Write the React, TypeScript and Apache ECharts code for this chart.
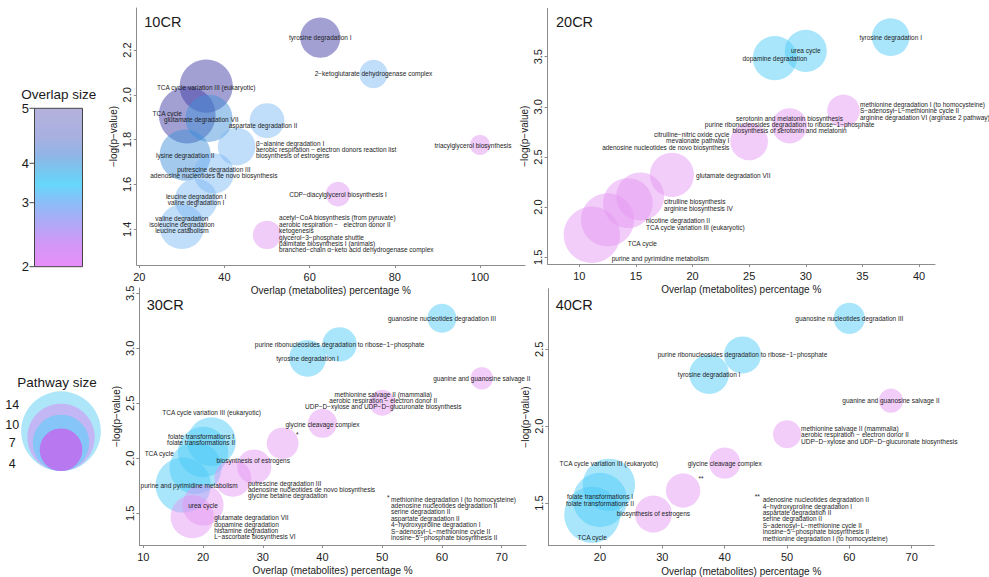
import { useEffect, useRef } from 'react';
import * as echarts from 'echarts';

const FONT = '"Liberation Sans", Arial, Helvetica, sans-serif';
const TXT = '#1c1c1c';

// ---------- 10CR ----------
const cr10Pathways = [
  'tyrosine degradation I',
  '2−ketoglutarate dehydrogenase complex',
  'TCA cycle variation III (eukaryotic)',
  'TCA cycle',
  'glutamate degradation VII',
  'aspartate degradation II',
  'β−alanine degradation I\naerobic respiration − electron donors reaction list\nbiosynthesis of estrogens',
  'triacylglycerol biosynthesis',
  'lysine degradation II',
  'putrescine degradation III\nadenosine nucleotides de novo biosynthesis',
  'leucine degradation I\nvaline degradation I',
  'valine degradation\nisoleucine degradation\nleucine catabolism',
  'CDP−diacylglycerol biosynthesis I',
  'acetyl−CoA biosynthesis (from pyruvate)\naerobic respiration −   electron donor II\nketogenesis\nglycerol−3−phosphate shuttle\npalmitate biosynthesis I (animals)\nbranched−chain α−keto acid dehydrogenase complex',
];
const cr10OverlapPct = [62.5, 75, 35.71, 31.25, 36.36, 50, 42.86, 100, 30.77, 37.5, 33.33, 30, 66.67, 50];
const cr10LogP = [2.255, 2.093, 2.039, 1.91, 1.895, 1.885, 1.769, 1.776, 1.731, 1.65, 1.531, 1.412, 1.557, 1.375];
const cr10PathwaySize = [8, 4, 14, 16, 11, 6, 7, 2, 13, 8, 9, 10, 3, 4];
const cr10OverlapSize = [5, 3, 5, 5, 4, 3, 3, 2, 4, 3, 3, 3, 2, 2];

// ---------- 20CR ----------
const cr20Pathways = [
  'tyrosine degradation I',
  'urea cycle',
  'dopamine degradation',
  'methionine degradation I (to homocysteine)\nS−adenosyl−L−methionine cycle II\narginine degradation VI (arginase 2 pathway)',
  'serotonin and melatonin biosynthesis\npurine ribonucleosides degradation to ribose−1−phosphate\nbiosynthesis of serotonin and melatonin',
  'citrulline−nitric oxide cycle\nmevalonate pathway I\nadenosine nucleotides de novo biosynthesis',
  'glutamate degradation VII',
  'citrulline biosynthesis\narginine biosynthesis IV',
  'nicotine degradation II\nTCA cycle variation III (eukaryotic)',
  'TCA cycle',
  'purine and pyrimidine metabolism',
];
const cr20OverlapPct = [37.5, 30, 27.27, 33.33, 28.57, 25, 18.18, 15.38, 14.29, 12.5, 11.11];
const cr20LogP = [3.695, 3.558, 3.486, 2.96, 2.811, 2.654, 2.322, 2.106, 2.04, 1.873, 1.724];
const cr20PathwaySize = [8, 10, 11, 6, 7, 8, 11, 13, 14, 16, 18];
const cr20OverlapSize = [3, 3, 3, 2, 2, 2, 2, 2, 2, 2, 2];

// ---------- 30CR ----------
const cr30Pathways = [
  'guanosine nucleotides degradation III',
  'purine ribonucleosides degradation to ribose−1−phosphate',
  'tyrosine degradation I',
  'guanine and guanosine salvage II',
  'methionine salvage II (mammalia)\naerobic respiration − electron donor II\nUDP−D−xylose and UDP−D−glucuronate biosynthesis',
  'glycine cleavage complex',
  '*',
  'TCA cycle variation III (eukaryotic)',
  'folate transformations I\nfolate transformations II',
  'TCA cycle',
  'purine and pyrimidine metabolism',
  'biosynthesis of estrogens',
  'putrescine degradation III\nadenosine nucleotides de novo biosynthesis\nglycine betaine degradation',
  'urea cycle',
  'glutamate degradation VII\ndopamine degradation\nhistamine degradation\nL−ascorbate biosynthesis VI',
];
const cr30OverlapPct = [60, 42.86, 37.5, 66.67, 50, 40, 33.33, 21.43, 20, 18.75, 16.67, 28.57, 25, 20, 18.18];
const cr30LogP = [3.273, 3.036, 2.909, 2.727, 2.505, 2.318, 2.136, 2.151, 2.057, 1.912, 1.757, 1.924, 1.818, 1.575, 1.469];
const cr30PathwaySize = [5, 7, 8, 3, 4, 5, 6, 14, 15, 16, 18, 7, 8, 10, 11];
const cr30OverlapSize = [3, 3, 3, 2, 2, 2, 2, 3, 3, 3, 3, 2, 2, 2, 2];
const cr30StarNote = [
  'methionine degradation I (to homocysteine)',
  'adenosine nucleotides degradation II',
  'serine degradation II',
  'aspartate degradation II',
  '4−hydroxyproline degradation I',
  'S−adenosyl−L−methionine cycle II',
  "inosine−5'−phosphate biosynthesis II",
];
const cr30StarAnchor = [51.02, 1.646];
const cr30NoteAnchor = [51.47, 1.659];

// ---------- 40CR ----------
const cr40Pathways = [
  'guanosine nucleotides degradation III',
  'purine ribonucleosides degradation to ribose−1−phosphate',
  'tyrosine degradation I',
  'guanine and guanosine salvage II',
  'methionine salvage II (mammalia)\naerobic respiration − electron donor II\nUDP−D−xylose and UDP−D−glucuronate biosynthesis',
  'glycine cleavage complex',
  '**',
  'biosynthesis of estrogens',
  'TCA cycle variation III (eukaryotic)',
  'folate transformations I\nfolate transformations II',
  'TCA cycle',
];
const cr40OverlapPct = [60, 42.86, 37.5, 66.67, 50, 40, 33.33, 28.57, 21.43, 20, 18.75];
const cr40LogP = [2.701, 2.463, 2.338, 2.166, 1.948, 1.76, 1.582, 1.429, 1.619, 1.521, 1.424];
const cr40PathwaySize = [5, 7, 8, 3, 4, 5, 6, 7, 14, 15, 16];
const cr40OverlapSize = [3, 3, 3, 2, 2, 2, 2, 2, 3, 3, 3];
const cr40StarNote = [
  'adenosine nucleotides degradation II',
  '4−hydroxyproline degradation I',
  'aspartate degradation II',
  'serine degradation II',
  'S−adenosyl−L−methionine cycle II',
  "inosine−5'−phosphate biosynthesis II",
  'methionine degradation I (to homocysteine)',
];
const cr40StarAnchor = [45.23, 1.54];
const cr40NoteAnchor = [46.1, 1.544];

// ---------- axis ticks ----------
const cr10XTicks = [20, 40, 60, 80, 100];
const cr10YTicks = [1.4, 1.6, 1.8, 2.0, 2.2];
const cr20XTicks = [10, 15, 20, 25, 30, 35, 40];
const cr20YTicks = [1.5, 2.0, 2.5, 3.0, 3.5];
const cr30XTicks = [10, 20, 30, 40, 50, 60, 70];
const cr30YTicks = [1.5, 2.0, 2.5, 3.0, 3.5];
const cr40XTicks = [20, 30, 40, 50, 60, 70];
const cr40YTicks = [1.5, 2.0, 2.5];

// ---------- legends ----------
const overlapLegendTicks = [5, 4, 3, 2];
const pathwayLegendSizes = [14, 10, 7, 4];

// ---------- layout (pixels, styles) ----------
type LL = [number, number, 'left' | 'center' | 'right'];
const cr10Labels: LL[] = [
  [0, 0, 'center'], [0, 0, 'center'], [0, 1.3, 'center'], [-20, -1.7, 'center'],
  [-7.7, 0.7, 'center'], [-4, 4.6, 'center'], [19.3, 2.8, 'left'], [-7, 0, 'center'],
  [0, 0.7, 'center'], [0, -0.6, 'center'], [0, -0.7, 'center'], [0, -2, 'center'],
  [0, 0, 'center'], [12, -1, 'left'],
];
const cr20Labels: LL[] = [
  [0, 0, 'center'], [0, 0, 'center'], [0, 0, 'center'], [16.5, 0, 'left'],
  [0, -1.3, 'center'], [-19.8, -0.7, 'right'], [24.1, 0.3, 'left'], [23.9, 8.5, 'left'],
  [18.1, 21, 'left'], [20.1, 23.7, 'left'], [19.8, 24, 'left'],
];
const cr30Labels: LL[] = [
  [0, 0, 'center'], [0, 0, 'center'], [0, 0, 'center'], [0, 0, 'center'],
  [1, -2.3, 'center'], [0, 0.7, 'center'], [14.6, -9.1, 'center'], [0, -29.4, 'center'],
  [-2, -12.5, 'center'], [-36.3, -14.7, 'center'], [6, 0, 'center'], [-1, -5.7, 'center'],
  [15, 11.2, 'left'], [0, 0, 'center'], [22, 10.6, 'left'],
];
const cr40Labels: LL[] = [
  [0, 0, 'center'], [0, 0, 'center'], [0, 0, 'center'], [0, 0, 'center'],
  [14, 0.8, 'left'], [0, 0, 'center'], [17.9, -12.2, 'center'], [0, -1, 'center'],
  [0, -21, 'center'], [0, 0, 'center'], [0, 22.3, 'center'],
];

const GRIDS = [
  { left: 136.7, top: 8, width: 388.3, height: 257 },
  { left: 547.5, top: 8.3, width: 387.5, height: 255.7 },
  { left: 139.3, top: 288, width: 386.7, height: 257 },
  { left: 548.3, top: 288.7, width: 386, height: 257 },
];
const X_RANGES = [[19.39, 110.57], [7.192, 41.413], [9.33, 74.07], [11.707, 73.626]];
const Y_RANGES = [[1.2407, 2.3874], [1.4332, 3.9826], [1.2118, 3.548], [1.2247, 2.8935]];
const SIZE_K = [14.2, 13.3, 13.0, 14.0];
const ALPHA = 0.6;
const PALETTE_10: Record<number, string> = { 2: '#e094f2', 3: '#7bb7f3', 4: '#3f91d9', 5: '#3c39a3' };
const PALETTE_OTHER: Record<number, string> = { 2: '#e396f3', 3: '#4ccaf6' };

function rgba(hex: string, a: number) {
  const n = parseInt(hex.slice(1), 16);
  return `rgba(${(n >> 16) & 255},${(n >> 8) & 255},${n & 255},${a})`;
}

const labelBase = {
  fontSize: 6.5,
  lineHeight: 6.4,
  color: TXT,
  fontFamily: FONT,
  textBorderWidth: 0,
  textBorderColor: 'transparent',
  textShadowBlur: 0,
  opacity: 1,
};

function buildSeries(
  idx: number,
  names: string[],
  xs: number[],
  ys: number[],
  sizes: number[],
  overlaps: number[],
  layout: LL[],
  palette: Record<number, string>,
  notes?: { star: string; starAt: number[]; lines: string[]; noteAt: number[] }
) {
  const data = names.map((n, i) => ({
    value: [xs[i], ys[i], sizes[i], overlaps[i]],
    itemStyle: { color: rgba(palette[overlaps[i]], ALPHA) },
    label: {
      ...labelBase,
      show: true,
      position: 'inside',
      formatter: n,
      align: layout[i][2],
      verticalAlign: 'middle',
      offset: [layout[i][0], layout[i][1]],
    },
  }));
  const s: any = {
    type: 'scatter',
    xAxisIndex: idx,
    yAxisIndex: idx,
    symbol: 'circle',
    symbolSize: (v: number[]) => SIZE_K[idx] * Math.sqrt(v[2]),
    data,
    silent: true,
    clip: false,
    emphasis: { disabled: true },
    label: { ...labelBase },
  };
  if (notes) {
    s.markPoint = {
      symbol: 'circle',
      symbolSize: 0,
      silent: true,
      itemStyle: { color: 'rgba(0,0,0,0)' },
      label: { show: true, position: 'inside', ...labelBase },
      data: [
        { coord: notes.starAt, label: { formatter: notes.star, align: 'center', verticalAlign: 'middle' } },
        { coord: notes.noteAt, label: { formatter: notes.lines.join('\n'), align: 'left', verticalAlign: 'top', lineHeight: 6.45 } },
      ],
    };
  }
  return s;
}

function axisCommon() {
  return {
    type: 'value',
    axisLine: { show: true, onZero: false, lineStyle: { color: '#8c8c8c', width: 1 } },
    splitLine: { show: false },
  };
}

export default function App() {
  const ref = useRef<HTMLDivElement>(null);
  useEffect(() => {
    if (!ref.current) return;
    const chart = echarts.init(ref.current, undefined, { renderer: 'svg' });
    const xTicks = [cr10XTicks, cr20XTicks, cr30XTicks, cr40XTicks];
    const yTicks = [cr10YTicks, cr20YTicks, cr30YTicks, cr40YTicks];

    const xAxis = GRIDS.map((_, i) => ({
      ...axisCommon(),
      gridIndex: i,
      min: X_RANGES[i][0],
      max: X_RANGES[i][1],
      name: 'Overlap (metabolites) percentage %',
      nameLocation: 'middle',
      nameGap: 20.5,
      nameTextStyle: { fontSize: 10, color: '#222', fontFamily: FONT },
      axisTick: { show: true, length: 3, lineStyle: { color: '#8c8c8c' }, customValues: xTicks[i] },
      axisLabel: {
        customValues: xTicks[i],
        fontSize: 11,
        color: '#222',
        margin: 6,
        fontFamily: FONT,
        formatter: (v: number) => String(Math.round(v)),
      },
    }));
    const yAxis = GRIDS.map((_, i) => ({
      ...axisCommon(),
      gridIndex: i,
      min: Y_RANGES[i][0],
      max: Y_RANGES[i][1],
      name: '−log(p−value)',
      nameLocation: 'middle',
      nameGap: 18,
      nameTextStyle: { fontSize: 10, color: '#222', fontFamily: FONT },
      axisTick: { show: true, length: 3, lineStyle: { color: '#8c8c8c' }, customValues: yTicks[i] },
      axisLabel: {
        customValues: yTicks[i],
        fontSize: 11,
        color: '#222',
        margin: 4,
        rotate: 90,
        fontFamily: FONT,
        formatter: (v: number) => v.toFixed(1),
      },
    }));

    const series = [
      buildSeries(0, cr10Pathways, cr10OverlapPct, cr10LogP, cr10PathwaySize, cr10OverlapSize, cr10Labels, PALETTE_10),
      buildSeries(1, cr20Pathways, cr20OverlapPct, cr20LogP, cr20PathwaySize, cr20OverlapSize, cr20Labels, PALETTE_OTHER),
      buildSeries(2, cr30Pathways, cr30OverlapPct, cr30LogP, cr30PathwaySize, cr30OverlapSize, cr30Labels, PALETTE_OTHER, {
        star: '*', starAt: cr30StarAnchor, lines: cr30StarNote, noteAt: cr30NoteAnchor,
      }),
      buildSeries(3, cr40Pathways, cr40OverlapPct, cr40LogP, cr40PathwaySize, cr40OverlapSize, cr40Labels, PALETTE_OTHER, {
        star: '**', starAt: cr40StarAnchor, lines: cr40StarNote, noteAt: cr40NoteAnchor,
      }),
    ];

    // Titles and legends (decoration)
    const titles = [
      { t: '10CR', x: 144.3, y: 21.7 },
      { t: '20CR', x: 556, y: 22 },
      { t: '30CR', x: 146.7, y: 305 },
      { t: '40CR', x: 555.7, y: 305 },
    ];
    const graphic: any[] = titles.map((o) => ({
      type: 'text',
      x: o.x,
      y: o.y,
      silent: true,
      style: { text: o.t, fontSize: 14.5, fontFamily: FONT, fill: '#1a1a1a', align: 'left', verticalAlign: 'middle' },
    }));

    // Overlap size colour bar
    const barTop = 108.3, barBottom = 266.7;
    const tickYs = [108.3, 163.3, 202.7, 266.7];
    graphic.push({
      type: 'text', x: 58.7, y: 94, silent: true,
      style: { text: 'Overlap size', fontSize: 13.5, fontFamily: FONT, fill: '#1a1a1a', align: 'center', verticalAlign: 'middle' },
    });
    graphic.push({
      type: 'rect', silent: true,
      shape: { x: 34.5, y: barTop, width: 48, height: barBottom - barTop },
      style: {
        fill: {
          type: 'linear', x: 0, y: 0, x2: 0, y2: 1,
          colorStops: [
            { offset: 0, color: '#b5b2dc' },
            { offset: 0.18, color: '#a8b0e0' },
            { offset: 0.3, color: '#8fb6e6' },
            { offset: 0.39, color: '#78c6ef' },
            { offset: 0.48, color: '#66d7fa' },
            { offset: 0.6, color: '#8dbcf8' },
            { offset: 0.7, color: '#a8acf6' },
            { offset: 0.85, color: '#d098f6' },
            { offset: 1, color: '#e88ef8' },
          ],
        },
        stroke: '#444',
        lineWidth: 1,
      },
    });
    overlapLegendTicks.forEach((v, i) => {
      graphic.push({
        type: 'line', silent: true,
        shape: { x1: 29.5, y1: tickYs[i], x2: 34.5, y2: tickYs[i] },
        style: { stroke: '#444', lineWidth: 1 },
      });
      graphic.push({
        type: 'text', x: 29, y: tickYs[i], silent: true,
        style: { text: String(v), fontSize: 13, fontFamily: FONT, fill: '#1a1a1a', align: 'right', verticalAlign: 'middle' },
      });
    });

    // Pathway size legend
    const legendColors = ['#ade5f9', '#c3b6f5', '#86c5f7', '#b878f0'];
    const legendLabelY = [405, 425, 443.3, 464];
    pathwayLegendSizes.forEach((s, i) => {
      const d = 21.3 * Math.sqrt(s);
      graphic.push({
        type: 'circle', silent: true,
        shape: { cx: 61, cy: 471 - d / 2, r: d / 2 },
        style: { fill: legendColors[i] },
      });
      graphic.push({
        type: 'text', x: 12.3, y: legendLabelY[i], silent: true,
        style: { text: String(s), fontSize: 12.5, fontFamily: FONT, fill: '#1a1a1a', align: 'center', verticalAlign: 'middle' },
      });
    });
    graphic.push({
      type: 'text', x: 57, y: 382, silent: true, z: 10,
      style: { text: 'Pathway size', fontSize: 13.5, fontFamily: FONT, fill: '#1a1a1a', align: 'center', verticalAlign: 'middle' },
    });

    chart.setOption({
      animation: false,
      backgroundColor: '#ffffff',
      textStyle: { fontFamily: FONT },
      grid: GRIDS.map((g) => ({ ...g, containLabel: false })),
      xAxis,
      yAxis,
      series,
      graphic,
    });
    return () => chart.dispose();
  }, []);
  return (
    <div
      ref={ref}
      style={{ position: 'fixed', left: 0, top: 0, width: 989, height: 577, background: '#fff' }}
    />
  );
}
